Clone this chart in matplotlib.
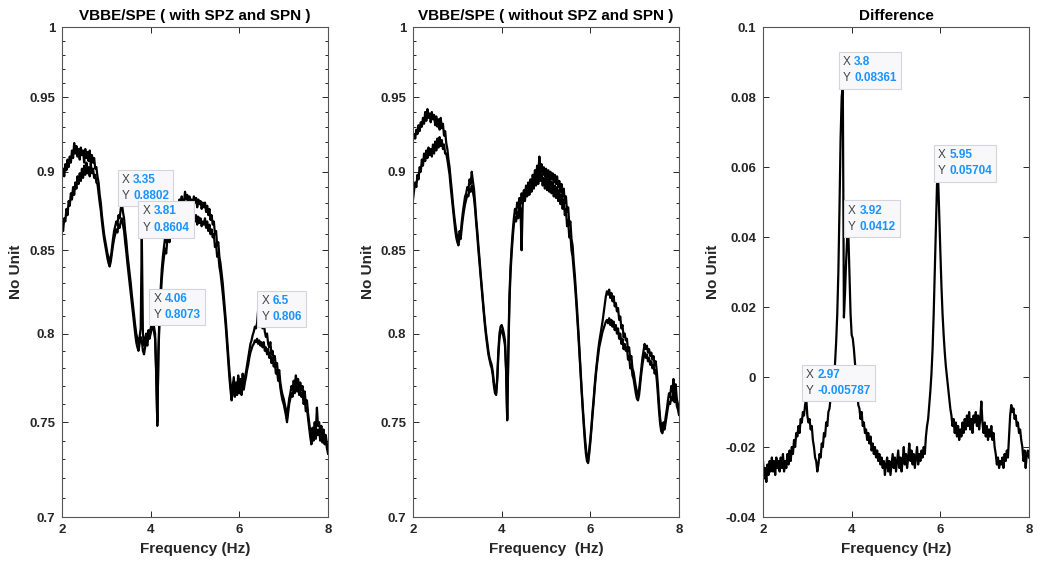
import numpy as np
import matplotlib
matplotlib.use('Agg')
import matplotlib.pyplot as plt
from matplotlib.ticker import FixedLocator, FuncFormatter, NullFormatter
from matplotlib.offsetbox import TextArea, HPacker, VPacker, AnnotationBbox

plt.rcParams.update({'font.family': ['Liberation Sans', 'DejaVu Sans'], 'axes.unicode_minus': False,
                     'font.weight': 'bold', 'axes.linewidth': 0.8})

# common frequency axis, 0.025 Hz step
freq = np.linspace(2, 8, 241)

# VBBE/SPE with SPZ and SPN, two traces
p1_upper = [
    0.898, 0.902, 0.897, 0.905, 0.901, 0.908, 0.903, 0.910,
    0.906, 0.914, 0.909, 0.919, 0.912, 0.917, 0.910, 0.915,
    0.908, 0.916, 0.911, 0.914, 0.906, 0.915, 0.909, 0.913,
    0.907, 0.914, 0.905, 0.911, 0.906, 0.909, 0.902, 0.903,
    0.897, 0.893, 0.885, 0.880, 0.872, 0.866, 0.860, 0.856,
    0.852, 0.848, 0.846, 0.843, 0.845, 0.851, 0.857, 0.862,
    0.865, 0.868, 0.866, 0.872, 0.870, 0.876, 0.880, 0.874,
    0.870, 0.862, 0.856, 0.848, 0.842, 0.836, 0.830, 0.823,
    0.817, 0.811, 0.805, 0.800, 0.797, 0.794, 0.798, 0.803,
    0.860, 0.800, 0.793, 0.797, 0.800, 0.796, 0.802, 0.799,
    0.803, 0.806, 0.807, 0.804, 0.800, 0.778, 0.748, 0.790,
    0.812, 0.826, 0.838, 0.846, 0.852, 0.858, 0.855, 0.863,
    0.868, 0.862, 0.872, 0.866, 0.875, 0.870, 0.878, 0.872,
    0.880, 0.874, 0.882, 0.876, 0.884, 0.878, 0.880, 0.887,
    0.882, 0.885, 0.879, 0.884, 0.876, 0.882, 0.878, 0.884,
    0.880, 0.883, 0.877, 0.882, 0.879, 0.881, 0.876, 0.880,
    0.877, 0.880, 0.874, 0.878, 0.872, 0.876, 0.869, 0.872,
    0.866, 0.868, 0.860, 0.862, 0.853, 0.855, 0.846, 0.842,
    0.836, 0.830, 0.822, 0.814, 0.806, 0.797, 0.788, 0.779,
    0.772, 0.765, 0.770, 0.775, 0.766, 0.772, 0.768, 0.776,
    0.769, 0.774, 0.768, 0.777, 0.771, 0.775, 0.778, 0.782,
    0.786, 0.790, 0.794, 0.796, 0.799, 0.801, 0.804, 0.803,
    0.806, 0.814, 0.804, 0.808, 0.806, 0.803, 0.807, 0.801,
    0.798, 0.800, 0.794, 0.792, 0.795, 0.788, 0.790, 0.785,
    0.787, 0.781, 0.783, 0.776, 0.779, 0.772, 0.768, 0.765,
    0.763, 0.760, 0.757, 0.752, 0.758, 0.763, 0.766, 0.770,
    0.768, 0.773, 0.770, 0.776, 0.771, 0.774, 0.769, 0.772,
    0.768, 0.770, 0.764, 0.767, 0.760, 0.762, 0.755, 0.750,
    0.745, 0.742, 0.747, 0.744, 0.750, 0.745, 0.758, 0.748,
    0.750, 0.744, 0.748, 0.742, 0.746, 0.741, 0.743, 0.738,
    0.735]
p1_lower = [
    0.865, 0.862, 0.870, 0.868, 0.876, 0.872, 0.881, 0.878,
    0.886, 0.882, 0.890, 0.885, 0.893, 0.889, 0.897, 0.892,
    0.899, 0.894, 0.902, 0.896, 0.904, 0.898, 0.906, 0.899,
    0.903, 0.897, 0.905, 0.899, 0.902, 0.896, 0.898, 0.893,
    0.892, 0.886, 0.880, 0.875, 0.868, 0.862, 0.857, 0.853,
    0.849, 0.845, 0.842, 0.840, 0.843, 0.848, 0.853, 0.857,
    0.860, 0.863, 0.861, 0.866, 0.864, 0.868, 0.870, 0.866,
    0.862, 0.855, 0.849, 0.842, 0.836, 0.830, 0.824, 0.818,
    0.812, 0.806, 0.800, 0.795, 0.792, 0.790, 0.794, 0.798,
    0.796, 0.790, 0.788, 0.792, 0.796, 0.793, 0.799, 0.797,
    0.800, 0.803, 0.805, 0.801, 0.797, 0.776, 0.750, 0.788,
    0.808, 0.820, 0.832, 0.840, 0.846, 0.851, 0.848, 0.856,
    0.860, 0.855, 0.864, 0.858, 0.866, 0.861, 0.868, 0.863,
    0.869, 0.864, 0.871, 0.866, 0.873, 0.867, 0.870, 0.865,
    0.872, 0.866, 0.870, 0.863, 0.868, 0.871, 0.866, 0.873,
    0.868, 0.872, 0.866, 0.871, 0.867, 0.870, 0.865, 0.868,
    0.866, 0.870, 0.864, 0.868, 0.862, 0.866, 0.860, 0.863,
    0.858, 0.860, 0.852, 0.854, 0.846, 0.848, 0.840, 0.836,
    0.830, 0.824, 0.817, 0.810, 0.802, 0.793, 0.784, 0.775,
    0.768, 0.762, 0.766, 0.771, 0.764, 0.769, 0.765, 0.772,
    0.766, 0.770, 0.765, 0.773, 0.768, 0.772, 0.775, 0.779,
    0.782, 0.786, 0.789, 0.791, 0.793, 0.794, 0.796, 0.795,
    0.797, 0.794, 0.796, 0.793, 0.795, 0.792, 0.795, 0.790,
    0.792, 0.788, 0.791, 0.786, 0.789, 0.783, 0.786, 0.781,
    0.783, 0.777, 0.779, 0.773, 0.775, 0.769, 0.765, 0.762,
    0.760, 0.757, 0.754, 0.750, 0.755, 0.760, 0.763, 0.766,
    0.764, 0.769, 0.766, 0.771, 0.767, 0.770, 0.765, 0.768,
    0.764, 0.766, 0.760, 0.763, 0.756, 0.758, 0.752, 0.747,
    0.742, 0.738, 0.743, 0.740, 0.745, 0.741, 0.746, 0.743,
    0.746, 0.740, 0.744, 0.739, 0.742, 0.738, 0.741, 0.736,
    0.733]

# VBBE/SPE without SPZ and SPN, two traces
p2_upper = [
    0.921, 0.925, 0.922, 0.928, 0.925, 0.931, 0.927, 0.933,
    0.930, 0.936, 0.932, 0.940, 0.934, 0.942, 0.936, 0.939,
    0.933, 0.940, 0.935, 0.938, 0.931, 0.937, 0.930, 0.935,
    0.928, 0.936, 0.929, 0.932, 0.924, 0.927, 0.919, 0.915,
    0.908, 0.903, 0.895, 0.888, 0.880, 0.873, 0.867, 0.862,
    0.858, 0.856, 0.862, 0.860, 0.868, 0.874, 0.879, 0.884,
    0.886, 0.890, 0.888, 0.895, 0.892, 0.900, 0.894, 0.889,
    0.880, 0.870, 0.862, 0.853, 0.845, 0.836, 0.828, 0.820,
    0.813, 0.806, 0.800, 0.795, 0.790, 0.786, 0.784, 0.782,
    0.778, 0.772, 0.768, 0.766, 0.775, 0.790, 0.800, 0.804,
    0.805, 0.803, 0.800, 0.796, 0.780, 0.752, 0.790, 0.822,
    0.840, 0.852, 0.862, 0.870, 0.876, 0.873, 0.880, 0.877,
    0.883, 0.879, 0.886, 0.881, 0.888, 0.884, 0.891, 0.886,
    0.893, 0.888, 0.895, 0.890, 0.898, 0.893, 0.901, 0.896,
    0.904, 0.898, 0.910, 0.900, 0.905, 0.898, 0.903, 0.897,
    0.902, 0.896, 0.901, 0.894, 0.900, 0.895, 0.899, 0.893,
    0.898, 0.892, 0.897, 0.890, 0.894, 0.887, 0.892, 0.884,
    0.889, 0.880, 0.884, 0.874, 0.877, 0.866, 0.868, 0.857,
    0.853, 0.843, 0.835, 0.825, 0.815, 0.804, 0.793, 0.781,
    0.770, 0.760, 0.751, 0.743, 0.736, 0.731, 0.729, 0.735,
    0.741, 0.748, 0.756, 0.763, 0.771, 0.778, 0.784, 0.790,
    0.795, 0.799, 0.803, 0.807, 0.812, 0.817, 0.822, 0.825,
    0.823, 0.826, 0.821, 0.824, 0.819, 0.822, 0.816, 0.818,
    0.813, 0.815, 0.808, 0.810, 0.803, 0.805, 0.798, 0.800,
    0.796, 0.797, 0.790, 0.792, 0.785, 0.787, 0.780, 0.778,
    0.774, 0.770, 0.767, 0.765, 0.768, 0.774, 0.780, 0.786,
    0.790, 0.794, 0.791, 0.793, 0.789, 0.791, 0.787, 0.789,
    0.785, 0.787, 0.782, 0.784, 0.778, 0.770, 0.760, 0.752,
    0.748, 0.746, 0.750, 0.748, 0.753, 0.757, 0.762, 0.766,
    0.764, 0.770, 0.767, 0.774, 0.766, 0.771, 0.763, 0.760,
    0.757]
p2_lower = [
    0.882, 0.888, 0.893, 0.890, 0.898, 0.895, 0.903, 0.900,
    0.908, 0.904, 0.912, 0.907, 0.914, 0.909, 0.916, 0.911,
    0.915, 0.910, 0.918, 0.912, 0.920, 0.914, 0.922, 0.916,
    0.923, 0.917, 0.921, 0.915, 0.918, 0.912, 0.912, 0.908,
    0.903, 0.898, 0.890, 0.883, 0.876, 0.869, 0.863, 0.858,
    0.855, 0.853, 0.858, 0.857, 0.864, 0.870, 0.875, 0.879,
    0.882, 0.885, 0.884, 0.889, 0.887, 0.891, 0.887, 0.883,
    0.876, 0.867, 0.859, 0.850, 0.842, 0.834, 0.826, 0.818,
    0.811, 0.804, 0.798, 0.793, 0.788, 0.785, 0.782, 0.780,
    0.776, 0.770, 0.766, 0.765, 0.773, 0.787, 0.797, 0.801,
    0.802, 0.800, 0.797, 0.793, 0.778, 0.751, 0.787, 0.818,
    0.836, 0.848, 0.858, 0.866, 0.871, 0.868, 0.874, 0.870,
    0.880, 0.876, 0.850, 0.879, 0.886, 0.881, 0.889, 0.884,
    0.891, 0.885, 0.893, 0.887, 0.895, 0.889, 0.897, 0.891,
    0.899, 0.892, 0.901, 0.894, 0.898, 0.891, 0.896, 0.889,
    0.896, 0.888, 0.895, 0.887, 0.894, 0.886, 0.893, 0.884,
    0.891, 0.883, 0.890, 0.881, 0.888, 0.879, 0.885, 0.876,
    0.882, 0.872, 0.876, 0.865, 0.869, 0.858, 0.860, 0.850,
    0.846, 0.838, 0.830, 0.821, 0.811, 0.801, 0.790, 0.779,
    0.768, 0.758, 0.749, 0.740, 0.733, 0.729, 0.728, 0.733,
    0.739, 0.746, 0.754, 0.761, 0.769, 0.776, 0.782, 0.787,
    0.792, 0.795, 0.798, 0.801, 0.803, 0.805, 0.807, 0.808,
    0.806, 0.809, 0.805, 0.808, 0.804, 0.807, 0.802, 0.805,
    0.800, 0.803, 0.797, 0.800, 0.794, 0.797, 0.791, 0.794,
    0.790, 0.792, 0.785, 0.787, 0.780, 0.782, 0.776, 0.774,
    0.770, 0.766, 0.763, 0.762, 0.765, 0.771, 0.777, 0.782,
    0.786, 0.789, 0.786, 0.788, 0.784, 0.786, 0.782, 0.784,
    0.780, 0.782, 0.777, 0.779, 0.773, 0.765, 0.756, 0.749,
    0.745, 0.744, 0.747, 0.746, 0.750, 0.754, 0.758, 0.761,
    0.760, 0.764, 0.762, 0.768, 0.761, 0.766, 0.759, 0.757,
    0.754]

# Difference
diff = [
    -0.024, -0.029, -0.026, -0.030, -0.025, -0.028, -0.024, -0.027,
    -0.023, -0.027, -0.024, -0.028, -0.023, -0.026, -0.024, -0.027,
    -0.023, -0.026, -0.022, -0.027, -0.024, -0.026, -0.022, -0.025,
    -0.021, -0.024, -0.020, -0.022, -0.018, -0.020, -0.016, -0.017,
    -0.014, -0.016, -0.012, -0.013, -0.010, -0.011, -0.008, -0.0058,
    -0.011, -0.013, -0.012, -0.015, -0.014, -0.018, -0.020, -0.023,
    -0.024, -0.027, -0.025, -0.022, -0.023, -0.019, -0.020, -0.016,
    -0.017, -0.013, -0.014, -0.010, -0.009, -0.006, -0.004, 0.000,
    -0.002, 0.004, 0.010, 0.018, 0.030, 0.048, 0.068, 0.080,
    0.0836, 0.017, 0.024, 0.033, 0.040, 0.0412, 0.030, 0.018,
    0.012, 0.011, 0.008, 0.004, 0.000, -0.004, -0.008, -0.009,
    -0.012, -0.010, -0.014, -0.013, -0.016, -0.015, -0.018, -0.016,
    -0.019, -0.017, -0.021, -0.019, -0.022, -0.020, -0.023, -0.021,
    -0.024, -0.022, -0.025, -0.023, -0.026, -0.024, -0.028, -0.025,
    -0.023, -0.027, -0.024, -0.028, -0.025, -0.022, -0.026, -0.023,
    -0.027, -0.024, -0.021, -0.026, -0.023, -0.027, -0.024, -0.020,
    -0.025, -0.022, -0.026, -0.023, -0.019, -0.024, -0.021, -0.025,
    -0.022, -0.026, -0.023, -0.020, -0.025, -0.022, -0.024, -0.021,
    -0.023, -0.020, -0.022, -0.017, -0.014, -0.012, -0.008, -0.004,
    0.001, 0.008, 0.018, 0.030, 0.043, 0.055, 0.057, 0.046,
    0.036, 0.026, 0.018, 0.012, 0.007, 0.003, 0.000, -0.003,
    -0.006, -0.009, -0.011, -0.014, -0.012, -0.016, -0.013, -0.017,
    -0.014, -0.018, -0.015, -0.017, -0.013, -0.016, -0.012, -0.015,
    -0.011, -0.014, -0.010, -0.015, -0.012, -0.016, -0.011, -0.013,
    -0.010, -0.014, -0.011, -0.015, -0.012, -0.007, -0.013, -0.016,
    -0.013, -0.017, -0.014, -0.018, -0.015, -0.017, -0.014, -0.018,
    -0.016, -0.020, -0.022, -0.025, -0.023, -0.026, -0.024, -0.025,
    -0.023, -0.026, -0.022, -0.024, -0.021, -0.023, -0.017, -0.011,
    -0.008, -0.010, -0.009, -0.012, -0.011, -0.014, -0.013, -0.016,
    -0.015, -0.018, -0.020, -0.024, -0.021, -0.026, -0.022, -0.021,
    -0.023]

# data tips
tips1_x = [3.35, 3.81, 4.06, 6.5]
tips1_y = [0.8802, 0.8604, 0.8073, 0.806]
tips3_x = [3.8, 3.92, 5.95, 2.97]
tips3_y = [0.08361, 0.0412, 0.05704, -0.005787]

ratio_ticks = [0.7, 0.75, 0.8, 0.85, 0.9, 0.95, 1.0]
ratio_minor = [round(0.70 + 0.01 * k, 2) for k in range(31)]
diff_ticks = [-0.04, -0.02, 0, 0.02, 0.04, 0.06, 0.08, 0.1]
freq_ticks = [2, 4, 6, 8]

AX_COL = '#262626'
TIP_BLUE = '#1a93ff'


def style_axis(ax):
    ax.set_xlim(2, 8)
    ax.xaxis.set_major_locator(FixedLocator(freq_ticks))
    ax.tick_params(which='both', direction='in', top=True, right=True, colors=AX_COL,
                   labelsize=9.5, width=0.7)
    ax.tick_params(which='major', length=4, pad=5)
    ax.tick_params(which='minor', length=2.2)
    for sp in ax.spines.values():
        sp.set_color('#555555')
    for lab in ax.get_xticklabels() + ax.get_yticklabels():
        lab.set_fontweight('bold')
    ax.set_ylabel('No Unit', fontsize=11, fontweight='bold', color=AX_COL)


def datatip(ax, x, y):
    ax.plot([x], [y], 'o', ms=3.2, mfc='#1a1a1a', mec='#d8c888', mew=0.9, zorder=5)
    rows = []
    for lab, val in (('X', x), ('Y', y)):
        rows.append(HPacker(children=[
            TextArea(lab, textprops=dict(color='#444444', fontsize=8.5, fontweight='normal')),
            TextArea(f'{val:g}', textprops=dict(color=TIP_BLUE, fontsize=8.5, fontweight='bold'))],
            pad=0, sep=2.5, align='baseline'))
    box = VPacker(children=rows, pad=0, sep=3, align='left')
    ab = AnnotationBbox(box, (x, y), xycoords='data', box_alignment=(0, 0), frameon=True, pad=0.45,
                        bboxprops=dict(boxstyle='square', facecolor='#f8f8fb', edgecolor='#d4d4dc', lw=0.8),
                        zorder=6)
    ax.add_artist(ab)


def log_ratio_axis(ax):
    ax.set_yscale('log')
    ax.set_ylim(0.7, 1.0)
    ax.yaxis.set_major_locator(FixedLocator(ratio_ticks))
    ax.yaxis.set_minor_locator(FixedLocator(ratio_minor))
    ax.yaxis.set_major_formatter(FuncFormatter(lambda v, p: f'{v:g}'))
    ax.yaxis.set_minor_formatter(NullFormatter())


fig = plt.figure(figsize=(10.37, 5.71), dpi=100)
W, H = 1037, 571
axes = [fig.add_axes([l / W, 54 / H, 266 / W, 490 / H]) for l in (62, 413, 763)]

ax1, ax2, ax3 = axes
ax1.plot(freq, p1_lower, color='black', lw=1.6)
ax1.plot(freq, p1_upper, color='black', lw=1.6)
log_ratio_axis(ax1)
ax1.set_title('VBBE/SPE ( with SPZ and SPN )', fontsize=11, fontweight='bold', pad=5)
ax1.set_xlabel('Frequency (Hz)', fontsize=11, fontweight='bold', color=AX_COL)
style_axis(ax1)
for x, y in zip(tips1_x, tips1_y):
    datatip(ax1, x, y)

ax2.plot(freq, p2_lower, color='black', lw=1.6)
ax2.plot(freq, p2_upper, color='black', lw=1.6)
log_ratio_axis(ax2)
ax2.set_title('VBBE/SPE ( without SPZ and SPN )', fontsize=11, fontweight='bold', pad=5)
ax2.set_xlabel('Frequency  (Hz)', fontsize=11, fontweight='bold', color=AX_COL)
style_axis(ax2)

ax3.plot(freq, diff, color='black', lw=1.6)
ax3.set_ylim(-0.04, 0.1)
ax3.yaxis.set_major_locator(FixedLocator(diff_ticks))
ax3.yaxis.set_major_formatter(FuncFormatter(lambda v, p: f'{v:g}'))
ax3.set_title('Difference', fontsize=11, fontweight='bold', pad=5)
ax3.set_xlabel('Frequency (Hz)', fontsize=11, fontweight='bold', color=AX_COL)
style_axis(ax3)
for x, y in zip(tips3_x, tips3_y):
    datatip(ax3, x, y)

fig.savefig('out.png', dpi=100)
